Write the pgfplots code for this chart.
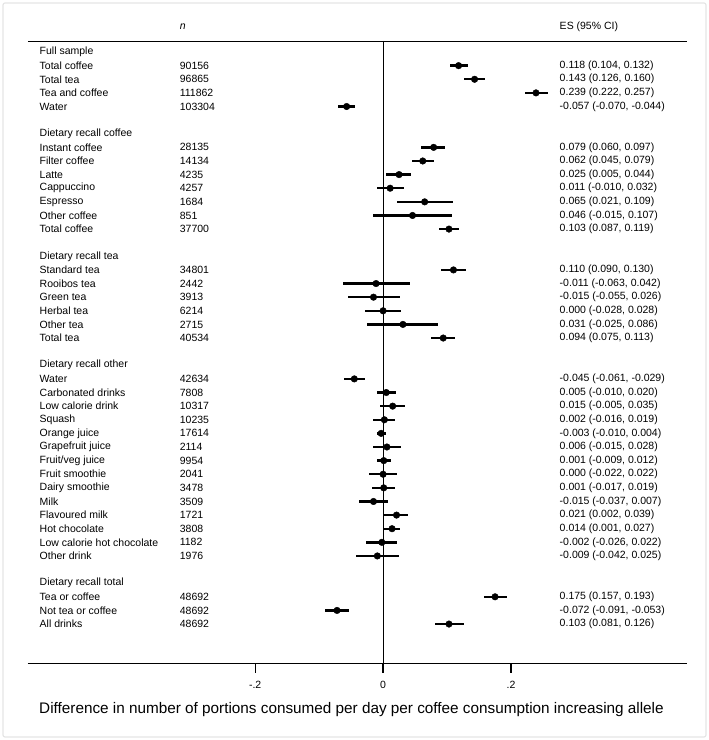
\documentclass[border=0pt]{standalone}
\usepackage{fontspec}
\setmainfont{Liberation Sans}
\usepackage{pgfplots}
\usepackage{pgfplotstable}
\pgfplotsset{compat=1.18}

\newcommand{\rowfont}{\fontsize{10.5}{12}\selectfont}

% row = line number from the top (header at -1.84)
\pgfplotstableread[col sep=comma]{
row,label,n,es,lo,hi,estext
-1.84,{},{\textit{n}},nan,nan,nan,{ES (95\% CI)}
0,{Full sample},{},nan,nan,nan,{}
1,{Total coffee},90156,0.118,0.104,0.132,{0.118 (0.104, 0.132)}
2,{Total tea},96865,0.143,0.126,0.160,{0.143 (0.126, 0.160)}
3,{Tea and coffee},111862,0.239,0.222,0.257,{0.239 (0.222, 0.257)}
4,{Water},103304,-0.057,-0.070,-0.044,{-0.057 (-0.070, -0.044)}
6,{Dietary recall coffee},{},nan,nan,nan,{}
7,{Instant coffee},28135,0.079,0.060,0.097,{0.079 (0.060, 0.097)}
8,{Filter coffee},14134,0.062,0.045,0.079,{0.062 (0.045, 0.079)}
9,{Latte},4235,0.025,0.005,0.044,{0.025 (0.005, 0.044)}
10,{Cappuccino},4257,0.011,-0.010,0.032,{0.011 (-0.010, 0.032)}
11,{Espresso},1684,0.065,0.021,0.109,{0.065 (0.021, 0.109)}
12,{Other coffee},851,0.046,-0.015,0.107,{0.046 (-0.015, 0.107)}
13,{Total coffee},37700,0.103,0.087,0.119,{0.103 (0.087, 0.119)}
15,{Dietary recall tea},{},nan,nan,nan,{}
16,{Standard tea},34801,0.110,0.090,0.130,{0.110 (0.090, 0.130)}
17,{Rooibos tea},2442,-0.011,-0.063,0.042,{-0.011 (-0.063, 0.042)}
18,{Green tea},3913,-0.015,-0.055,0.026,{-0.015 (-0.055, 0.026)}
19,{Herbal tea},6214,0.000,-0.028,0.028,{0.000 (-0.028, 0.028)}
20,{Other tea},2715,0.031,-0.025,0.086,{0.031 (-0.025, 0.086)}
21,{Total tea},40534,0.094,0.075,0.113,{0.094 (0.075, 0.113)}
23,{Dietary recall other},{},nan,nan,nan,{}
24,{Water},42634,-0.045,-0.061,-0.029,{-0.045 (-0.061, -0.029)}
25,{Carbonated drinks},7808,0.005,-0.010,0.020,{0.005 (-0.010, 0.020)}
26,{Low calorie drink},10317,0.015,-0.005,0.035,{0.015 (-0.005, 0.035)}
27,{Squash},10235,0.002,-0.016,0.019,{0.002 (-0.016, 0.019)}
28,{Orange juice},17614,-0.003,-0.010,0.004,{-0.003 (-0.010, 0.004)}
29,{Grapefruit juice},2114,0.006,-0.015,0.028,{0.006 (-0.015, 0.028)}
30,{Fruit/veg juice},9954,0.001,-0.009,0.012,{0.001 (-0.009, 0.012)}
31,{Fruit smoothie},2041,0.000,-0.022,0.022,{0.000 (-0.022, 0.022)}
32,{Dairy smoothie},3478,0.001,-0.017,0.019,{0.001 (-0.017, 0.019)}
33,{Milk},3509,-0.015,-0.037,0.007,{-0.015 (-0.037, 0.007)}
34,{Flavoured milk},1721,0.021,0.002,0.039,{0.021 (0.002, 0.039)}
35,{Hot chocolate},3808,0.014,0.001,0.027,{0.014 (0.001, 0.027)}
36,{Low calorie hot chocolate},1182,-0.002,-0.026,0.022,{-0.002 (-0.026, 0.022)}
37,{Other drink},1976,-0.009,-0.042,0.025,{-0.009 (-0.042, 0.025)}
39,{Dietary recall total},{},nan,nan,nan,{}
40,{Tea or coffee},48692,0.175,0.157,0.193,{0.175 (0.157, 0.193)}
41,{Not tea or coffee},48692,-0.072,-0.091,-0.053,{-0.072 (-0.091, -0.053)}
42,{All drinks},48692,0.103,0.081,0.126,{0.103 (0.081, 0.126)}
}\forest

\begin{document}
\begin{tikzpicture}
\useasboundingbox (0,0) rectangle (709pt,740pt);
\draw[black!10, line width=1.2pt, rounded corners=2pt] (3pt,3pt) rectangle (706pt,737pt);
\begin{axis}[
    at={(28pt,77pt)}, anchor=south west,
    scale only axis,
    width=659pt, height=622pt,
    xmin=-0.555, xmax=0.475,
    ymin=-44.86, ymax=0.81,
    clip=false,
    hide y axis,
    axis x line*=bottom,
    axis line style={black, line width=0.9pt, -},
    xtick={-0.2,0,0.2},
    xticklabels={-.2,0,.2},
    xtick style={draw=none},
    xticklabel style={font=\rowfont, anchor=center, yshift=-22pt},
    /pgf/number format/assume math mode=true,
    xlabel={Difference in number of portions consumed per day per coffee consumption increasing allele},
    xlabel style={font=\fontsize{15.3}{17}\selectfont, at={(axis description cs:0.5,0)}, anchor=center, yshift=-47pt, xshift=-6pt},
]
% frame lines of the table: top rule, bottom rule, zero line and ticks
\draw[black, line width=0.9pt] (axis cs:-0.555,0.81) -- (axis cs:0.475,0.81);
\draw[black, line width=0.9pt] (axis cs:-0.555,-44.86) -- (axis cs:0.475,-44.86);
\draw[black, line width=0.9pt] (axis cs:0,0.81) -- (axis cs:0,-44.86);
\draw[black, line width=1.2pt] (axis cs:-0.2,-44.86) -- ([yshift=-9.5pt]axis cs:-0.2,-44.86);
\draw[black, line width=1.2pt] (axis cs:0,-44.86) -- ([yshift=-9.5pt]axis cs:0,-44.86);
\draw[black, line width=1.2pt] (axis cs:0.2,-44.86) -- ([yshift=-9.5pt]axis cs:0.2,-44.86);

% text columns
\addplot[draw=none, mark=none, nodes near coords, point meta=explicit symbolic,
  nodes near coords style={anchor=west, inner sep=0pt, font=\rowfont, text=black}]
  table[x expr=-0.537, y expr=-\thisrow{row}, meta=label] \forest;
\addplot[draw=none, mark=none, nodes near coords, point meta=explicit symbolic,
  nodes near coords style={anchor=west, inner sep=0pt, font=\rowfont, text=black}]
  table[x expr=-0.318, y expr=-\thisrow{row}, meta=n] \forest;
\addplot[draw=none, mark=none, nodes near coords, point meta=explicit symbolic,
  nodes near coords style={anchor=west, inner sep=0pt, font=\rowfont, text=black}]
  table[x expr=0.2758, y expr=-\thisrow{row}, meta=estext] \forest;

% estimates with 95% CI
\addplot[only marks, mark=*, mark size=3.3pt, black,
  error bars/.cd, x dir=both, x explicit,
  error bar style={line width=2.4pt, black}, error mark=none]
  table[x=es, y expr=-\thisrow{row},
        x error plus expr=\thisrow{hi}-\thisrow{es},
        x error minus expr=\thisrow{es}-\thisrow{lo}] \forest;
\end{axis}
\end{tikzpicture}
\end{document}
